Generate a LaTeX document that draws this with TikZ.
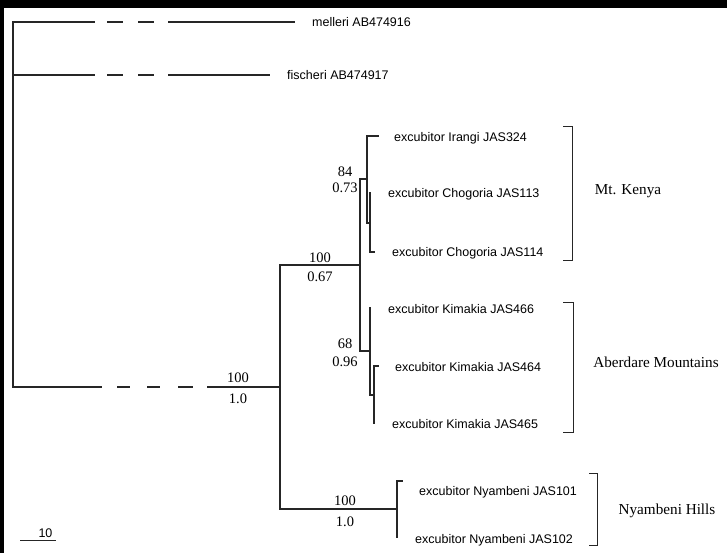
\documentclass[tikz,border=0pt]{standalone}
\usepackage{fontspec}
\setmainfont{Liberation Serif}
\setsansfont{Liberation Sans}
\begin{document}
\begin{tikzpicture}[x=1pt,y=-1pt,
  br/.style={line width=1.1pt, draw=black!85, line cap=rect},
  outdash/.style={br, line cap=butt, dash pattern=on 82pt off 12pt on 16pt off 15pt on 16pt off 14pt on 400pt off 0pt},
  indash/.style={br, line cap=butt, dash pattern=on 89pt off 15pt on 13pt off 17pt on 13pt off 18pt on 15pt off 14pt on 200pt off 0pt},
  brack/.style={line width=1pt, draw=black!85},
  taxon/.style={font=\sffamily\fontsize{12.5}{14}\selectfont, anchor=base west, inner sep=0pt},
  supval/.style={font=\fontsize{14.5}{16}\selectfont, anchor=base, inner sep=0pt},
  region/.style={font=\fontsize{15.2}{17}\selectfont, anchor=base, inner sep=0pt}]
\useasboundingbox (0,0) rectangle (727,553);
\fill[white] (0,0) rectangle (727,553);
\fill[black] (0,0) rectangle (727,8);
\fill[black] (0,0) rectangle (4,553);

% internal coordinates
\coordinate (rootT) at (13,22);
\coordinate (rootF) at (13,75);
\coordinate (rootB) at (13,387);
\coordinate (melT) at (295,22);
\coordinate (fisT) at (270,75);
\coordinate (inN) at (280,387);
\coordinate (inT) at (280,265);
\coordinate (inB) at (280,509);
\coordinate (kaN) at (360,265);
\coordinate (keN) at (360,179);
\coordinate (abN) at (360,351);
\coordinate (keV) at (367,179);
\coordinate (keT) at (367,136);
\coordinate (keB) at (367,223);
\coordinate (irT) at (378,136);
\coordinate (chN) at (370,223);
\coordinate (chT) at (370,193);
\coordinate (chB) at (370,252);
\coordinate (chBt) at (374,252);
\coordinate (abV) at (370,351);
\coordinate (abT) at (370,308);
\coordinate (abB) at (370,395);
\coordinate (kiN) at (374,395);
\coordinate (kiT) at (374,366);
\coordinate (kiB) at (374,423);
\coordinate (kiTt) at (378,366);
\coordinate (nyN) at (397,509);
\coordinate (nyT) at (397,481);
\coordinate (nyB) at (397,537);
\coordinate (nyTt) at (402,481);

% taxa
\node[taxon] (tMel) at (312,26.5) {melleri AB474916};
\node[taxon] (tFis) at (287,79.5) {fischeri AB474917};
\node[taxon] (tIr) at (394,141.5) {excubitor Irangi JAS324};
\node[taxon] (tC113) at (388,197.5) {excubitor Chogoria JAS113};
\node[taxon] (tC114) at (392,256.5) {excubitor Chogoria JAS114};
\node[taxon] (tK466) at (388,313.5) {excubitor Kimakia JAS466};
\node[taxon] (tK464) at (395,371.5) {excubitor Kimakia JAS464};
\node[taxon] (tK465) at (392,428.5) {excubitor Kimakia JAS465};
\node[taxon] (tN101) at (419,495.5) {excubitor Nyambeni JAS101};
\node[taxon] (tN102) at (415,543.5) {excubitor Nyambeni JAS102};

% tree
\draw[br] (rootT) -- (rootB);
\draw[outdash] (rootT) -- (melT);
\draw[outdash] (rootF) -- (fisT);
\draw[indash] (rootB) -- (inN);
\draw[br] (inT) -- (inB);
\draw[br] (inT) -- (kaN);
\draw[br] (keN) -- (abN);
\draw[br] (keN) -- (keV);
\draw[br] (irT) -- (keT) -- (keB) -- (chN);
\draw[br] (chT) -- (chB) -- (chBt);
\draw[br] (abN) -- (abV);
\draw[br] (abT) -- (abB) -- (kiN);
\draw[br] (kiTt) -- (kiT) -- (kiB);
\draw[br] (inB) -- (nyN);
\draw[br] (nyTt) -- (nyT) -- (nyB);

% support values
\node[supval] (s84) at (345,177) {84};
\node[supval] (p84) at (345,192.5) {0.73};
\node[supval] (s100a) at (320,262) {100};
\node[supval] (p100a) at (320,281) {0.67};
\node[supval] (s68) at (345,348) {68};
\node[supval] (p68) at (345,366.5) {0.96};
\node[supval] (s100r) at (238,382) {100};
\node[supval] (p100r) at (238,403) {1.0};
\node[supval] (s100n) at (345,505) {100};
\node[supval] (p100n) at (345,526) {1.0};

% brackets
\coordinate (bkT0) at (563,127);
\coordinate (bkT1) at (572,127);
\coordinate (bkB1) at (572,260);
\coordinate (bkB0) at (563,260);
\draw[brack] (bkT0) -- (bkT1) -- (bkB1) -- (bkB0);
\coordinate (baT0) at (563,302);
\coordinate (baT1) at (573,302);
\coordinate (baB1) at (573,432);
\coordinate (baB0) at (563,432);
\draw[brack] (baT0) -- (baT1) -- (baB1) -- (baB0);
\coordinate (bnT0) at (589,473);
\coordinate (bnT1) at (597,473);
\coordinate (bnB1) at (597,545);
\coordinate (bnB0) at (589,545);
\draw[brack] (bnT0) -- (bnT1) -- (bnB1) -- (bnB0);

\node[region] (rKe) at (628,195) {Mt. Kenya};
\node[region] (rAb) at (656,367) {Aberdare Mountains};
\node[region] (rNy) at (667,514) {Nyambeni Hills};

% scale bar
\coordinate (sb0) at (20,540);
\coordinate (sb1) at (56,540);
\draw[brack] (sb0) -- (sb1);
\node[font=\sffamily\fontsize{12.5}{14}\selectfont, anchor=base, inner sep=0pt] (sbl) at (45.5,537.5) {10};
\end{tikzpicture}
\end{document}
